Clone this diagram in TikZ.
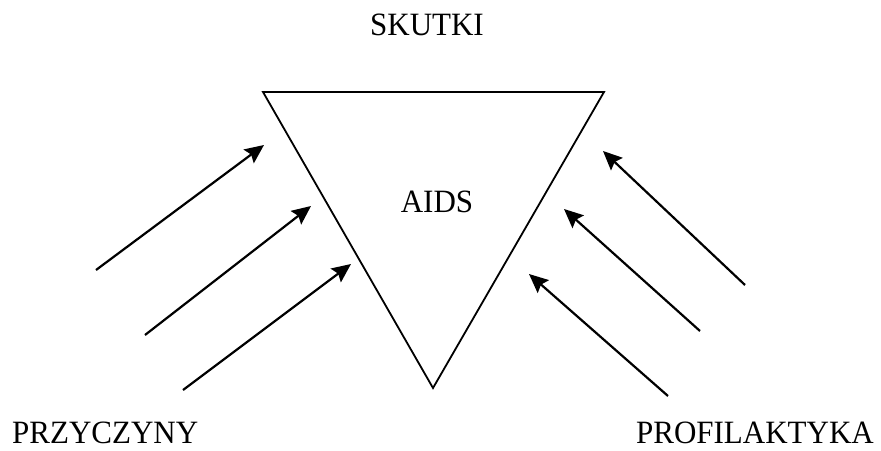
\documentclass[tikz,border=0pt]{standalone}
\usepackage{fontspec}
\setmainfont{Liberation Serif}
\usetikzlibrary{arrows.meta}
\begin{document}
\begin{tikzpicture}[x=1pt,y=-1pt,
  label/.style={font=\fontsize{31}{36}\selectfont, inner sep=0pt, yscale=1.05},
  edge/.style={line width=1.8pt},
  push/.style={line width=2.2pt, -{Stealth[length=19pt,width=17pt,inset=3pt]}}]
  \useasboundingbox (0,0) rectangle (881,450);
  % inverted triangle
  \coordinate (tl) at (263,92);
  \coordinate (tr) at (604,92);
  \coordinate (bt) at (433,388);
  \draw[edge, line join=miter] (tl) -- (tr) -- (bt) -- cycle;
  % labels
  \node[label, anchor=base] (skutki) at (427,35) {SKUTKI};
  \node[label, anchor=base] (aids) at (437,212) {AIDS};
  \node[label, anchor=base west] (przyczyny) at (12,443) {PRZYCZYNY};
  \node[label, anchor=base east] (profil) at (874,443) {PROFILAKTYKA};
  % causes, pointing up-right
  \coordinate (l1s) at (96,270);  \coordinate (l1e) at (264,145);
  \coordinate (l2s) at (145,335); \coordinate (l2e) at (311,206);
  \coordinate (l3s) at (183,390); \coordinate (l3e) at (351,264);
  \draw[push] (l1s) -- (l1e);
  \draw[push] (l2s) -- (l2e);
  \draw[push] (l3s) -- (l3e);
  % prevention, pointing up-left
  \coordinate (r1s) at (745,285); \coordinate (r1e) at (603,151);
  \coordinate (r2s) at (700,331); \coordinate (r2e) at (564,209);
  \coordinate (r3s) at (668,396); \coordinate (r3e) at (529,274);
  \draw[push] (r1s) -- (r1e);
  \draw[push] (r2s) -- (r2e);
  \draw[push] (r3s) -- (r3e);
\end{tikzpicture}
\end{document}
